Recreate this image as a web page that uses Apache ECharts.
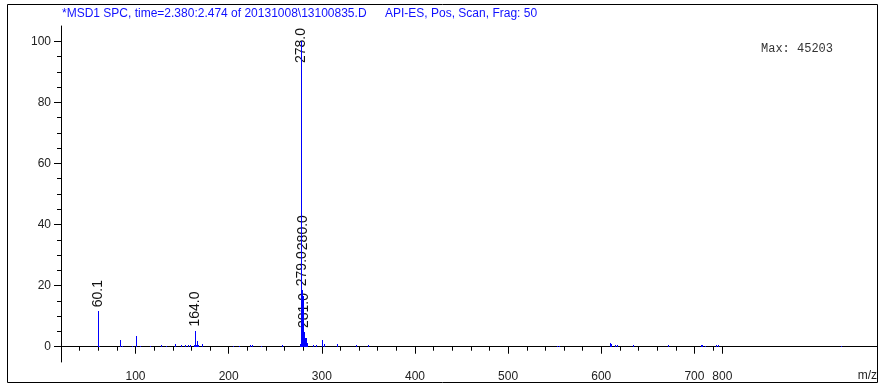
<!DOCTYPE html>
<html>
<head>
<meta charset="utf-8">
<script src="https://cdn.jsdelivr.net/npm/echarts@6/dist/echarts.min.js"></script>
<style>
html,body{margin:0;padding:0;background:#fff;}
#chart{width:888px;height:388px;}
</style>
</head>
<body>
<div id="chart"></div>
<script>
// ---- data ----
const peakMz = [60.1, 61.1, 83.0, 85.9, 96.6, 100.5, 104.5, 115.2, 127.4, 133.1, 142.4, 148.8, 153.1, 156.7, 158.9,
  163.1, 164.0, 165.3, 166.0, 167.4, 171.0, 204.6, 211.1, 223.2, 224.7, 234.7, 257.2,
  277.0, 278.0, 279.0, 280.0, 281.0, 282.0, 283.0, 284.0,
  290.5, 294.1, 299.8, 302.0, 316.3, 336.3, 349.2,
  552.4, 554.2, 609.3, 610.4, 614.6, 616.8, 634.0, 671.5, 707.0, 708.0, 711.6, 723.0, 725.2, 857.6];
const peakAbund = [11.6, 0.4, 2.2, 0.4, 0.4, 3.4, 0.4, 0.4, 0.5, 0.4, 1.0, 0.7, 0.5, 0.5, 0.5,
  0.7, 5.3, 0.6, 1.8, 0.5, 0.9, 0.4, 0.4, 0.6, 0.6, 0.4, 0.6,
  1.0, 100, 18.5, 16.5, 4.8, 2.9, 2.9, 1.2,
  0.6, 0.6, 2.2, 0.8, 0.8, 0.5, 0.5,
  0.3, 0.3, 1.1, 0.8, 0.5, 0.5, 0.5, 0.5, 0.6, 0.6, 0.4, 0.6, 0.6, 0.3];
const labeledMz = [60.1, 164.0, 278.0, 279.0, 280.0, 281.0];
const labeledText = ['60.1', '164.0', '278.0', '279.0', '280.0', '281.0'];

const yTickValues = [0, 20, 40, 60, 80, 100];
const yMinorValues = [5, 10, 15, 25, 30, 35, 45, 50, 55, 65, 70, 75, 85, 90, 95];
const xTickValues = [100, 200, 300, 400, 500, 600, 700, 730];
const xTickLabels = ['100', '200', '300', '400', '500', '600', '700', '800'];
const xMinorValues = [40, 60, 80, 120, 140, 160, 180, 220, 240, 260, 280, 320, 340, 360, 380, 420, 440, 460, 480,
  520, 540, 560, 580, 620, 640, 660, 680, 720];

const titleLeft = '*MSD1 SPC, time=2.380:2.474 of 20131008\\13100835.D';
const titleRight = 'API-ES, Pos, Scan, Frag: 50';
const maxText = 'Max: 45203';
const xName = 'm/z';

// ---- chart ----
const SANS = '"Liberation Sans", Arial, sans-serif';
const chart = echarts.init(document.getElementById('chart'), null, {renderer: 'canvas'});
const peaks = peakMz.map((m, i) => [m, peakAbund[i]]);

const baseGraphic = [
  {type: 'rect', shape: {x: 7.5, y: 4.5, width: 870, height: 378}, style: {fill: 'none', stroke: '#000', lineWidth: 1}, silent: true},
  {type: 'text', x: 62, y: 14, style: {text: titleLeft, font: '12px ' + SANS, fill: '#1010ff', textVerticalAlign: 'middle'}},
  {type: 'text', x: 385, y: 14, style: {text: titleRight, font: '12px ' + SANS, fill: '#1010ff', textVerticalAlign: 'middle'}},
  {type: 'text', x: 761, y: 49, style: {text: maxText, font: '12px "Liberation Mono", "Courier New", monospace', fill: '#333', textVerticalAlign: 'middle'}},
  {type: 'text', x: 877, y: 376, style: {text: xName, font: '12px ' + SANS, fill: '#222', textAlign: 'right', textVerticalAlign: 'middle'}}
];

const option = {
  animation: false,
  backgroundColor: '#fff',
  grid: {left: 61, right: 11, top: 26, bottom: 26, containLabel: false},
  xAxis: [
    {type: 'value', min: 20, max: 896, position: 'bottom',
      axisLine: {show: true, lineStyle: {color: '#000', width: 1}},
      axisTick: {show: true, length: 7, lineStyle: {color: '#000'}, customValues: xTickValues},
      axisLabel: {show: true, customValues: xTickValues, color: '#222', fontSize: 12, fontFamily: SANS, margin: 9,
        formatter: v => { const i = xTickValues.indexOf(v); return i >= 0 ? xTickLabels[i] : ''; }},
      splitLine: {show: false}},
    {type: 'value', min: 20, max: 896, position: 'bottom', offset: 0,
      axisLine: {show: false},
      axisTick: {show: true, length: 4, lineStyle: {color: '#000'}, customValues: xMinorValues},
      axisLabel: {show: false}, splitLine: {show: false}}
  ],
  yAxis: [
    {type: 'value', min: -5, max: 105, position: 'left',
      axisLine: {show: true, lineStyle: {color: '#000', width: 1}},
      axisTick: {show: true, length: 7, lineStyle: {color: '#000'}, customValues: yTickValues},
      axisLabel: {show: true, customValues: yTickValues, color: '#222', fontSize: 12, fontFamily: SANS, margin: 10},
      splitLine: {show: false}},
    {type: 'value', min: -5, max: 105, position: 'left', offset: 0,
      axisLine: {show: false},
      axisTick: {show: true, length: 4, lineStyle: {color: '#000'}, customValues: yMinorValues},
      axisLabel: {show: false}, splitLine: {show: false}}
  ],
  series: [{
    type: 'custom', xAxisIndex: 0, yAxisIndex: 0, clip: true,
    data: peaks,
    renderItem: function (params, api) {
      const base = api.coord([api.value(0), 0]);
      const top = api.coord([api.value(0), api.value(1)]);
      const px = Math.round(base[0]) + 0.5;
      const y1 = Math.round(base[1]);
      const y2 = Math.min(Math.round(top[1]), y1 - 1);
      return {type: 'line', shape: {x1: px, y1: y1, x2: px, y2: y2},
        style: {stroke: '#0000ff', lineWidth: 1}};
    }
  }],
  graphic: baseGraphic
};
chart.setOption(option);

// ---- peak labels, stacked to avoid overlap (positions computed through the axes) ----
const ctx = document.createElement('canvas').getContext('2d');
ctx.font = '14px ' + SANS;
const plotTop = chart.convertToPixel({yAxisIndex: 0}, 105);
const items = labeledMz.map((m, i) => {
  const idx = peakMz.indexOf(m);
  const p = chart.convertToPixel({xAxisIndex: 0, yAxisIndex: 0}, [m, peakAbund[idx]]);
  return {text: labeledText[i], x: Math.round(p[0]) + 0.5, peakTop: p[1], ab: peakAbund[idx], w: ctx.measureText(labeledText[i]).width};
}).sort((a, b) => b.ab - a.ab);
const placed = [];
items.forEach(it => {
  let bottom = it.peakTop - 4;
  let top = bottom - it.w;
  if (top < plotTop + 2) { top = plotTop + 2; bottom = top + it.w; }
  let moved = true;
  while (moved) {
    moved = false;
    for (const p of placed) {
      if (Math.abs(p.x - it.x) < 12 && top < p.bottom && bottom > p.top) {
        bottom = p.top - 1; top = bottom - it.w; moved = true;
      }
    }
  }
  it.top = top; it.bottom = bottom;
  placed.push(it);
});
const labelGraphic = placed.map(it => ({
  type: 'text', x: it.x, y: it.bottom, rotation: Math.PI / 2,
  style: {text: it.text, font: '14px ' + SANS, fill: '#111', textAlign: 'left', textVerticalAlign: 'middle'}
}));
chart.setOption({graphic: baseGraphic.concat(labelGraphic)});
</script>
</body>
</html>
